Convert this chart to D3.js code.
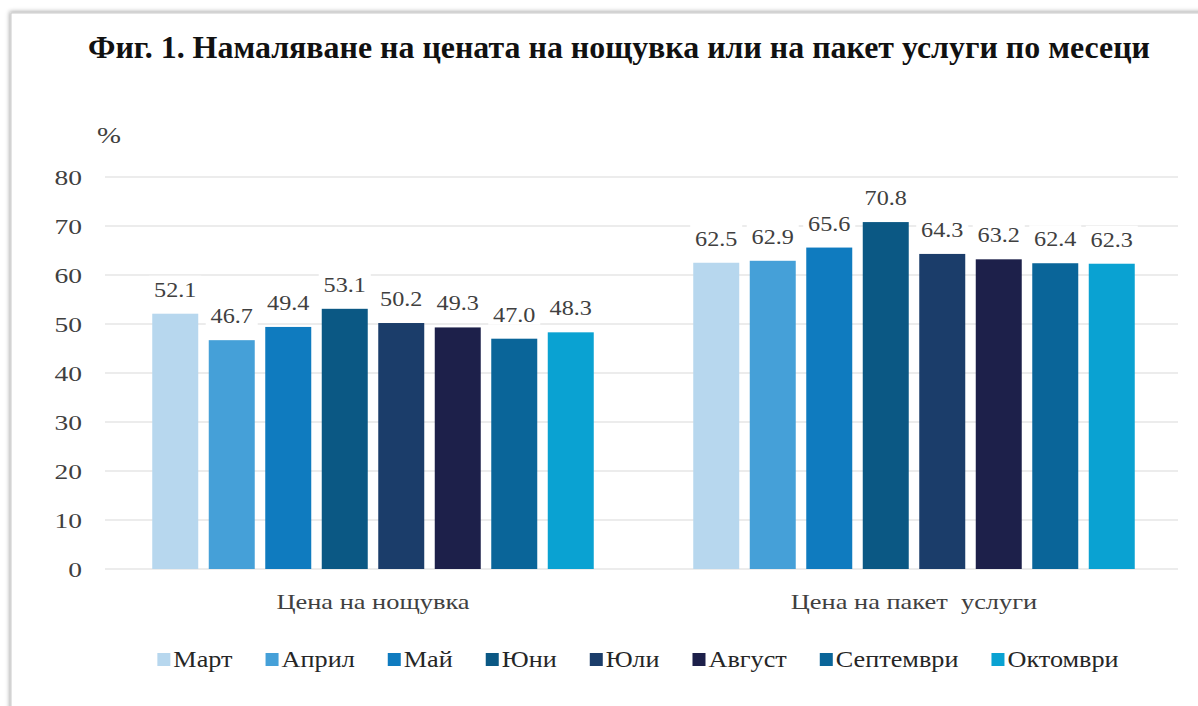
<!DOCTYPE html>
<html>
<head>
<meta charset="utf-8">
<script src="https://cdn.jsdelivr.net/npm/d3@7"></script>
<style>
  body { margin: 0; background: #ffffff; }
  svg text { font-family: "Liberation Serif", "Times New Roman", serif; }
</style>
</head>
<body>
<div id="chart"></div>
<script>
// data
const groups = ["Цена на нощувка", "Цена на пакет  услуги"];
const months = ["Март", "Април", "Май", "Юни", "Юли", "Август", "Септември", "Октомври"];
const nightValues = [52.1, 46.7, 49.4, 53.1, 50.2, 49.3, 47.0, 48.3];
const packageValues = [62.5, 62.9, 65.6, 70.8, 64.3, 63.2, 62.4, 62.3];
const yTicks = [0, 10, 20, 30, 40, 50, 60, 70, 80];
const monthColors = ["#b7d7ee", "#45a0d8", "#0f7bbf", "#0b5884", "#1b3d6a", "#1d204a", "#0a6599", "#0aa2d2"];

const width = 1198, height = 706;
const plot = { left: 102.5, right: 1184.5, top: 177, bottom: 569 };
const grid = { left: 105, right: 1178 };
const stretchX = 1.2;   // the source picture is a bit wider than tall

const svg = d3.select("#chart").append("svg")
    .attr("width", width)
    .attr("height", height);

//widen text horizontally, like the source picture
function stretch(sel, k) {
    sel.each(function () {
        let w = this.getComputedTextLength();
        d3.select(this)
            .attr("textLength", w * k)
            .attr("lengthAdjust", "spacingAndGlyphs");
    });
}

// frame with a soft shadow on the left / top
let defs = svg.append("defs");
let shadow = defs.append("filter").attr("id", "shadow")
    .attr("x", "-5%").attr("y", "-5%").attr("width", "110%").attr("height", "110%");
shadow.append("feDropShadow")
    .attr("dx", -1).attr("dy", -1).attr("stdDeviation", 2)
    .attr("flood-color", "#000").attr("flood-opacity", 0.35);

svg.append("rect")
    .attr("x", 11).attr("y", 13)
    .attr("width", width + 20).attr("height", height + 20)
    .attr("fill", "#ffffff")
    .attr("stroke", "#c9c9c9")
    .attr("stroke-width", 1)
    .attr("filter", "url(#shadow)");

// title
svg.append("text")
    .attr("x", 88).attr("y", 58)
    .attr("font-size", 31)
    .attr("font-weight", "bold")
    .attr("fill", "#111")
    .attr("textLength", 1062)
    .attr("lengthAdjust", "spacingAndGlyphs")
    .text("Фиг. 1. Намаляване на цената на нощувка или на пакет услуги по месеци");

// scales
let y = d3.scaleLinear().domain([0, 80]).range([plot.bottom, plot.top]);
let x0 = d3.scaleBand().domain(groups).range([plot.left, plot.right]);
let x1 = d3.scaleBand().domain(months)
    .range([49.75, x0.bandwidth() - 49.75])
    .paddingInner(0.186);

// gridlines
svg.append("g").selectAll("line")
    .data(yTicks)
    .enter()
    .append("line")
    .attr("x1", grid.left).attr("x2", grid.right)
    .attr("y1", d => y(d)).attr("y2", d => y(d))
    .attr("stroke", "#d9d9d9")
    .attr("stroke-width", 1.2);

// y axis labels
let yAxis = svg.append("g")
    .attr("transform", "translate(" + 82 + ",0)")
    .call(d3.axisLeft(y).tickValues(yTicks).tickSize(0).tickPadding(0));
yAxis.select(".domain").remove();
yAxis.attr("font-family", null);
yAxis.selectAll("text")
    .attr("font-size", 22)
    .attr("fill", "#404040")
    .attr("dy", "0.35em")
    .call(stretch, 1.25);

svg.append("text")
    .attr("x", 97).attr("y", 143)
    .attr("font-size", 24)
    .attr("fill", "#404040")
    .text("%")
    .call(stretch, stretchX);

// bars
let seriesByGroup = [nightValues, packageValues];
let groupG = svg.selectAll(".grp")
    .data(groups)
    .enter()
    .append("g")
    .attr("class", "grp")
    .attr("transform", d => "translate(" + x0(d) + ",0)");

groupG.each(function (g, gi) {
    let vals = seriesByGroup[gi];
    let sel = d3.select(this);
    sel.selectAll("rect")
        .data(months)
        .enter()
        .append("rect")
        .attr("x", d => x1(d))
        .attr("y", (d, i) => y(vals[i]))
        .attr("width", x1.bandwidth())
        .attr("height", (d, i) => y(0) - y(vals[i]))
        .attr("fill", (d, i) => monthColors[i]);

    // value labels with a white backing that cuts the gridlines
    let lab = sel.selectAll(".lab")
        .data(months)
        .enter()
        .append("g")
        .attr("class", "lab");
    lab.append("rect")
        .attr("x", d => x1(d) + x1.bandwidth() / 2 - 26)
        .attr("y", (d, i) => y(vals[i]) - 38)
        .attr("width", 52)
        .attr("height", 24)
        .attr("fill", "#ffffff");
    lab.append("text")
        .attr("x", d => x1(d) + x1.bandwidth() / 2)
        .attr("y", (d, i) => y(vals[i]) - 17)
        .attr("text-anchor", "middle")
        .attr("font-size", 22)
        .attr("fill", "#404040")
        .text((d, i) => vals[i].toFixed(1))
        .call(stretch, 1.1);

    sel.append("text")
        .attr("x", x0.bandwidth() / 2)
        .attr("y", 609)
        .attr("text-anchor", "middle")
        .attr("font-size", 22)
        .attr("fill", "#404040")
        .style("white-space", "pre")
        .text(g)
        .call(stretch, stretchX);
});

// legend, laid out from measured text widths
let legendGap = 33;
let legend = svg.append("g");
let item = legend.selectAll("g")
    .data(months)
    .enter()
    .append("g");
item.append("rect")
    .attr("y", 653)
    .attr("width", 13).attr("height", 13)
    .attr("fill", (d, i) => monthColors[i]);
item.append("text")
    .attr("x", 16)
    .attr("y", 667)
    .attr("font-size", 23)
    .attr("fill", "#262626")
    .text(d => d)
    .call(stretch, 1.14);

let pos = 0;
let offsets = [];
item.each(function () {
    offsets.push(pos);
    let w = +d3.select(this).select("text").attr("textLength");
    pos += 16 + w + legendGap;
});
let total = pos - legendGap;
let startX = 638 - total / 2;
item.attr("transform", (d, i) => "translate(" + (startX + offsets[i]) + ",0)");
</script>
</body>
</html>
